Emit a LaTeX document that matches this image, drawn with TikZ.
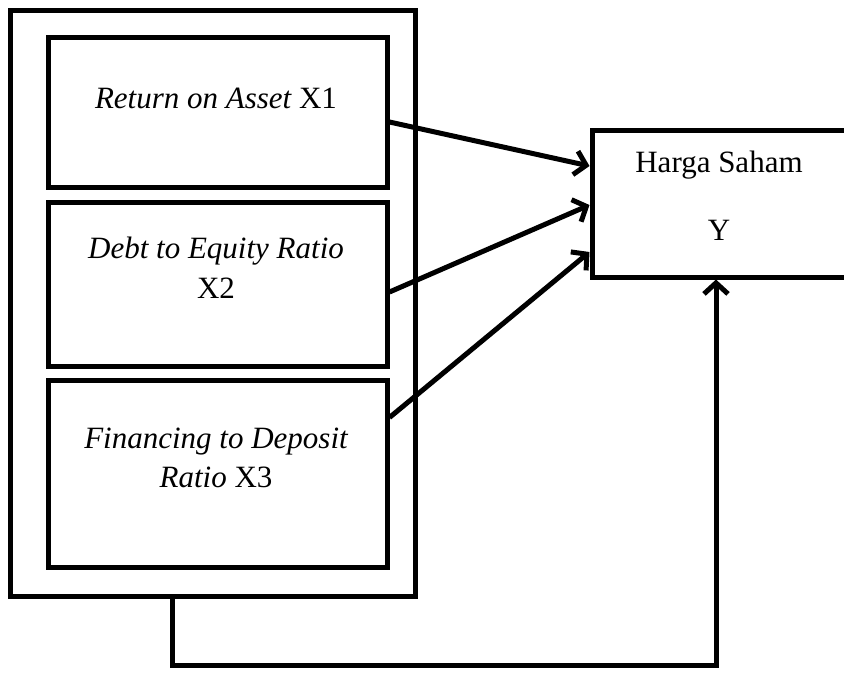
\documentclass[tikz,border=0pt]{standalone}
\usepackage{fontspec}
\setmainfont{Liberation Serif}
\usetikzlibrary{arrows.meta,calc}
\begin{document}
\begin{tikzpicture}[x=1pt,y=-1pt,
  box/.style={draw,line width=5pt,rectangle,inner sep=0pt},
  lbl/.style={font=\fontsize{31}{36}\selectfont,inner sep=0pt,anchor=base},
  arr/.style={line width=5pt,-{Straight Barb[length=11pt,width=24pt]}}]
\useasboundingbox (0,0) rectangle (844,673);
\node[box,minimum width=405pt,minimum height=586pt] (outer) at (212.5,303) {};
\node[box,minimum width=339pt,minimum height=150pt] (b1) at (217.5,112) {};
\node[box,minimum width=339pt,minimum height=164pt] (b2) at (217.5,284) {};
\node[box,minimum width=339pt,minimum height=187pt] (b3) at (217.5,473.5) {};
\node[box,minimum width=278pt,minimum height=147pt] (yb) at (731,203.5) {};
\node[lbl] (t1) at (216,108) {\itshape Return on Asset \upshape X1};
\node[lbl] (t2a) at (216,258) {\itshape Debt to Equity Ratio};
\node[lbl] (t2b) at (216,298) {X2};
\node[lbl] (t3a) at (216,448) {\itshape Financing to Deposit};
\node[lbl] (t3b) at (216,487) {\itshape Ratio \upshape X3};
\node[lbl] (hs) at (719,172) {Harga Saham};
\node[lbl] (yy) at (719,240) {Y};
\draw[arr] ([yshift=-10pt]b1.east) -- ([yshift=37.5pt]yb.west);
\draw[arr] ([yshift=-8pt]b2.east) -- ([yshift=-1.5pt]yb.west);
\draw[arr] ([yshift=56pt]b3.east) -- ([yshift=-48.5pt]yb.west);
\coordinate (c1) at (172,665);
\coordinate (c2) at (716,665);
\draw[arr] (outer.south -| c1) -- (c1) -- (c2) -- (yb.south -| c2);
\end{tikzpicture}
\end{document}
